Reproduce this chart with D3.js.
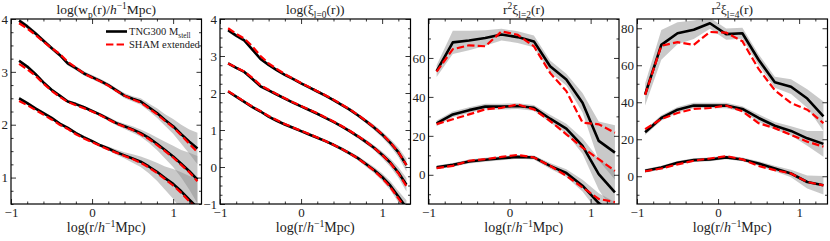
<!DOCTYPE html>
<html>
<head>
<meta charset="utf-8">
<script src="https://cdn.jsdelivr.net/npm/d3@7"></script>
<style>
  body { margin: 0; background: #fff; }
  svg { display: block; }
  svg text { font-family: "Liberation Serif", "DejaVu Serif", serif; fill: #222; }
</style>
</head>
<body>
<div id="chart"></div>
<script>
// separation bins, log(r / h^-1 Mpc)
var rFine = [-0.9, -0.8, -0.7, -0.6, -0.5, -0.4, -0.3, -0.2, -0.1, 0.0, 0.1, 0.2,
             0.3, 0.4, 0.5, 0.6, 0.7, 0.8, 0.9, 1.0, 1.1, 1.2, 1.3];
var rCoarse = [-0.9, -0.7, -0.5, -0.3, -0.1, 0.1, 0.3, 0.5, 0.7, 0.9, 1.1, 1.3];

// log wp  (three samples, top to bottom)
var wpTng = [
  [3.97, 3.86, 3.73, 3.59, 3.45, 3.32, 3.16, 3.07, 2.97, 2.90, 2.83, 2.75, 2.65, 2.55, 2.49, 2.44, 2.33, 2.22, 2.09, 1.97, 1.82, 1.68, 1.55],
  [3.21, 3.10, 2.96, 2.80, 2.66, 2.55, 2.44, 2.39, 2.33, 2.26, 2.19, 2.11, 2.03, 1.97, 1.91, 1.84, 1.75, 1.64, 1.52, 1.40, 1.26, 1.12, 0.96],
  [2.50, 2.41, 2.31, 2.22, 2.13, 2.02, 1.94, 1.84, 1.76, 1.69, 1.61, 1.55, 1.48, 1.42, 1.36, 1.30, 1.21, 1.11, 0.99, 0.88, 0.74, 0.58, 0.43]
];
var wpSham = [
  [3.92, 3.82, 3.70, 3.57, 3.45, 3.34, 3.19, 3.08, 2.97, 2.89, 2.82, 2.74, 2.64, 2.55, 2.48, 2.42, 2.31, 2.20, 2.07, 1.95, 1.80, 1.64, 1.48],
  [3.15, 3.05, 2.93, 2.78, 2.64, 2.53, 2.43, 2.37, 2.31, 2.25, 2.18, 2.10, 2.02, 1.96, 1.90, 1.82, 1.73, 1.62, 1.50, 1.38, 1.24, 1.10, 0.93],
  [2.45, 2.37, 2.28, 2.19, 2.10, 2.00, 1.92, 1.82, 1.74, 1.67, 1.60, 1.53, 1.47, 1.41, 1.35, 1.28, 1.19, 1.09, 0.97, 0.85, 0.71, 0.55, 0.40]
];
var wpErr = [
  [0.04, 0.04, 0.04, 0.04, 0.04, 0.04, 0.04, 0.04, 0.04, 0.04, 0.04, 0.04, 0.04, 0.05, 0.05, 0.06, 0.07, 0.09, 0.11, 0.14, 0.18, 0.23, 0.30],
  [0.03, 0.03, 0.03, 0.03, 0.03, 0.03, 0.03, 0.03, 0.03, 0.03, 0.03, 0.04, 0.04, 0.05, 0.06, 0.07, 0.09, 0.12, 0.16, 0.20, 0.26, 0.35, 0.45],
  [0.03, 0.03, 0.03, 0.03, 0.03, 0.03, 0.03, 0.03, 0.03, 0.03, 0.03, 0.04, 0.05, 0.06, 0.08, 0.10, 0.13, 0.17, 0.22, 0.28, 0.36, 0.45, 0.55]
];

// log xi_0
var xi0Tng = [
  [3.70, 3.55, 3.42, 3.17, 2.92, 2.76, 2.62, 2.49, 2.38, 2.26, 2.15, 2.04, 1.93, 1.81, 1.68, 1.55, 1.40, 1.24, 1.07, 0.88, 0.66, 0.40, 0.05],
  [2.80, 2.68, 2.57, 2.38, 2.18, 2.07, 1.96, 1.85, 1.74, 1.64, 1.54, 1.44, 1.33, 1.22, 1.10, 0.97, 0.83, 0.68, 0.52, 0.33, 0.12, -0.15, -0.48],
  [2.04, 1.90, 1.76, 1.62, 1.50, 1.36, 1.25, 1.15, 1.06, 0.97, 0.88, 0.79, 0.70, 0.60, 0.49, 0.37, 0.24, 0.08, -0.08, -0.27, -0.50, -0.80, -1.10]
];
var xi0Sham = [
  [3.75, 3.60, 3.47, 3.26, 3.00, 2.80, 2.65, 2.51, 2.39, 2.27, 2.16, 2.05, 1.94, 1.82, 1.69, 1.56, 1.41, 1.25, 1.08, 0.89, 0.67, 0.40, 0.05],
  [2.80, 2.69, 2.58, 2.41, 2.21, 2.09, 1.97, 1.86, 1.75, 1.65, 1.55, 1.45, 1.34, 1.23, 1.11, 0.98, 0.84, 0.69, 0.52, 0.33, 0.11, -0.17, -0.52],
  [2.05, 1.91, 1.77, 1.63, 1.51, 1.38, 1.27, 1.16, 1.07, 0.98, 0.89, 0.80, 0.70, 0.60, 0.49, 0.37, 0.23, 0.07, -0.10, -0.30, -0.54, -0.85, -1.15]
];
var xi0Err = [
  [0.05, 0.05, 0.05, 0.05, 0.04, 0.04, 0.04, 0.04, 0.04, 0.04, 0.04, 0.04, 0.04, 0.04, 0.04, 0.05, 0.05, 0.06, 0.07, 0.08, 0.10, 0.13, 0.17],
  [0.04, 0.04, 0.04, 0.04, 0.04, 0.04, 0.04, 0.04, 0.04, 0.04, 0.04, 0.04, 0.04, 0.04, 0.04, 0.05, 0.05, 0.06, 0.07, 0.09, 0.11, 0.14, 0.18],
  [0.04, 0.04, 0.04, 0.04, 0.04, 0.04, 0.04, 0.04, 0.04, 0.04, 0.04, 0.04, 0.04, 0.04, 0.05, 0.05, 0.06, 0.07, 0.08, 0.10, 0.12, 0.15, 0.20]
];

// r^2 xi_2
var xi2Tng = [
  [53.2, 68.0, 69.0, 70.2, 72.0, 70.7, 68.5, 55.7, 48.9, 37.0, 17.4, 11.4],
  [26.4, 31.0, 33.2, 35.0, 35.0, 35.3, 34.4, 28.8, 23.7, 14.8, 0.3, -9.0],
  [3.8, 5.1, 6.8, 7.7, 8.5, 9.2, 8.9, 4.6, 0.9, -5.6, -14.5, -21.0]
];
var xi2Sham = [
  [53.0, 64.5, 66.5, 66.0, 73.6, 71.9, 66.0, 52.3, 43.0, 26.8, 25.9, 21.6],
  [26.0, 28.5, 31.0, 33.6, 34.4, 36.1, 33.6, 27.6, 20.8, 14.0, 8.0, 2.0],
  [3.4, 4.6, 7.2, 8.0, 9.2, 10.2, 8.9, 4.6, -0.5, -6.5, -12.4, -14.0]
];
var xi2Err = [
  [3, 6, 5, 4, 3, 3, 3, 3, 3, 5, 10, 14],
  [1.5, 1.5, 1.5, 1.5, 1.5, 1.5, 1.5, 2, 2.5, 4, 8, 11],
  [1, 1, 1, 1, 1, 1, 1, 1.5, 2, 3, 5, 7]
];

// r^2 xi_4
var xi4Tng = [
  [44.2, 71.0, 77.3, 79.2, 82.7, 76.8, 77.3, 63.0, 50.8, 48.4, 42.0, 32.4],
  [23.8, 31.5, 36.0, 38.2, 38.2, 38.2, 36.4, 31.5, 27.3, 24.5, 20.5, 17.5],
  [2.9, 4.7, 7.3, 8.7, 9.1, 10.2, 9.1, 6.9, 4.2, 1.5, -3.1, -4.9]
];
var xi4Sham = [
  [44.0, 70.5, 72.5, 71.0, 78.0, 77.6, 73.0, 58.0, 46.5, 39.6, 36.0, 28.7],
  [25.5, 30.9, 34.2, 36.4, 36.9, 38.2, 35.1, 28.7, 26.0, 22.4, 18.7, 16.0],
  [2.7, 4.2, 6.4, 8.4, 9.6, 10.9, 9.1, 5.5, 3.3, 1.5, -3.1, -4.9]
];
var xi4Err = [
  [6, 8, 6, 5, 3, 3, 3, 3, 3, 4, 5, 8],
  [1.5, 1.5, 1.5, 1.5, 1.5, 1.5, 1.5, 2, 2, 2.5, 4, 7],
  [1, 1, 1, 1, 1, 1, 1, 1.2, 1.5, 2, 3.5, 5]
];

var xMajor = [-1, 0, 1];
var legendLabels = ["TNG300", "SHAM extended"];

// title pieces: [text, "sub"|"sup"|"", italic]
var panels = [
  {r: rFine, tng: wpTng, sham: wpSham, err: wpErr, y: [0.5, 4], yMajor: [1, 2, 3, 4], yMinor: 0.25,
   title: [["log(w", ""], ["p", "sub"], ["(r)/", ""], ["h", "", true], ["\u22121", "sup"], ["Mpc)", ""]]},
  {r: rFine, tng: xi0Tng, sham: xi0Sham, err: xi0Err, y: [-1, 4], yMajor: [-1, 0, 1, 2, 3, 4], yMinor: 0.25,
   title: [["log(\u03be", ""], ["l=0", "sub"], ["(r))", ""]]},
  {r: rCoarse, tng: xi2Tng, sham: xi2Sham, err: xi2Err, y: [-15, 80], yMajor: [0, 20, 40, 60], yMinor: 10,
   title: [["r", ""], ["2", "sup"], ["\u03be", ""], ["l=2", "sub"], ["(r)", ""]]},
  {r: rCoarse, tng: xi4Tng, sham: xi4Sham, err: xi4Err, y: [-15, 85], yMajor: [0, 20, 40, 60, 80], yMinor: 10,
   title: [["r", ""], ["2", "sup"], ["\u03be", ""], ["l=4", "sub"], ["(r)", ""]]}
];

var W = 830, H = 241;
var lefts = [11, 220, 428.5, 637], pw = 190.5, padTop = 19, ph = 185;
var serif = "Liberation Serif";

var svg = d3.select("#chart").append("svg")
    .attr("width", W)
    .attr("height", H);

function richText(t, parts, size) {
    var shift = 0;
    parts.forEach(function(p) {
        var target = p[1] == "sub" ? 0.28 * size : (p[1] == "sup" ? -0.38 * size : 0);
        var ts = t.append("tspan")
            .attr("dy", target - shift)
            .text(p[0]);
        if (p[1]) ts.attr("font-size", size * 0.7);
        if (p[2]) ts.attr("font-style", "italic");
        shift = target;
    });
}

var fmt = function(d) { return d < 0 ? "\u2212" + Math.abs(d) : String(d); };

panels.forEach(function(p, pi) {
    var g = svg.append("g").attr("transform", "translate(" + lefts[pi] + "," + padTop + ")");

    var x = d3.scaleLinear().domain([-1, 1.35]).range([0, pw]);
    var y = d3.scaleLinear().domain(p.y).range([ph, 0]);

    g.append("clipPath").attr("id", "clip" + pi)
        .append("rect").attr("width", pw).attr("height", ph);

    var plot = g.append("g").attr("clip-path", "url(#clip" + pi + ")");

    var area = d3.area()
        .x(function(d) { return x(d[0]); })
        .y0(function(d) { return y(d[1] - d[2]); })
        .y1(function(d) { return y(d[1] + d[2]); });
    var line = d3.line()
        .x(function(d) { return x(d[0]); })
        .y(function(d) { return y(d[1]); });

    p.tng.forEach(function(vals, k) {
        var pts = p.r.map(function(r, i) { return [r, vals[i], p.err[k][i]]; });
        plot.append("path")
            .attr("d", area(pts))
            .attr("fill", "#888")
            .attr("fill-opacity", 0.45);
    });
    p.tng.forEach(function(vals) {
        plot.append("path")
            .attr("d", line(p.r.map(function(r, i) { return [r, vals[i]]; })))
            .attr("fill", "none")
            .attr("stroke", "#000")
            .attr("stroke-width", 2.6)
            .attr("stroke-linejoin", "round");
    });
    p.sham.forEach(function(vals) {
        plot.append("path")
            .attr("d", line(p.r.map(function(r, i) { return [r, vals[i]]; })))
            .attr("fill", "none")
            .attr("stroke", "#f00")
            .attr("stroke-width", 2.2)
            .attr("stroke-dasharray", "7.4,3.2");
    });

    // axes, ticks pointing in
    var xMinor = d3.range(-1, 1.36, 0.2).map(function(v) { return +v.toFixed(2); })
        .filter(function(v) { return xMajor.indexOf(v) < 0; });
    var yMinor = d3.range(Math.ceil(p.y[0] / p.yMinor) * p.yMinor, p.y[1] + 1e-9, p.yMinor)
        .filter(function(v) { return p.yMajor.indexOf(+v.toFixed(3)) < 0; });

    function addAxis(axis, tr) {
        var a = g.append("g").attr("transform", tr).call(axis);
        a.attr("font-family", serif);
        a.select(".domain").remove();
        a.selectAll("line").attr("stroke", "#000").attr("stroke-width", 0.8);
        return a;
    }

    var bx = addAxis(d3.axisBottom(x).tickValues(xMajor).tickSizeInner(-5).tickSizeOuter(0).tickPadding(4).tickFormat(fmt), "translate(0," + ph + ")");
    bx.selectAll("text").attr("font-size", 13);
    addAxis(d3.axisBottom(x).tickValues(xMinor).tickSizeInner(-2.5).tickSizeOuter(0).tickFormat(""), "translate(0," + ph + ")");
    addAxis(d3.axisTop(x).tickValues(xMajor).tickSizeInner(-5).tickSizeOuter(0).tickFormat(""), "translate(0,0)");
    addAxis(d3.axisTop(x).tickValues(xMinor).tickSizeInner(-2.5).tickSizeOuter(0).tickFormat(""), "translate(0,0)");

    var ly = addAxis(d3.axisLeft(y).tickValues(p.yMajor).tickSizeInner(-5).tickSizeOuter(0).tickPadding(3).tickFormat(fmt), "translate(0,0)");
    ly.selectAll("text").attr("font-size", 13);
    addAxis(d3.axisLeft(y).tickValues(yMinor).tickSizeInner(-2.5).tickSizeOuter(0).tickFormat(""), "translate(0,0)");
    addAxis(d3.axisRight(y).tickValues(p.yMajor).tickSizeInner(-5).tickSizeOuter(0).tickFormat(""), "translate(" + pw + ",0)");
    addAxis(d3.axisRight(y).tickValues(yMinor).tickSizeInner(-2.5).tickSizeOuter(0).tickFormat(""), "translate(" + pw + ",0)");

    g.append("rect")
        .attr("width", pw).attr("height", ph)
        .attr("fill", "none").attr("stroke", "#000").attr("stroke-width", 1.2);

    // title and x label
    var t = g.append("text")
        .attr("x", pw / 2).attr("y", -5)
        .attr("text-anchor", "middle")
        .attr("font-family", serif)
        .attr("font-size", 13.5);
    richText(t, p.title, 13.5);

    var xl = g.append("text")
        .attr("x", pw / 2).attr("y", ph + 28)
        .attr("text-anchor", "middle")
        .attr("font-family", serif)
        .attr("font-size", 14);
    richText(xl, [["log(r/", ""], ["h", "", true], ["\u22121", "sup"], ["Mpc)", ""]], 14);

    if (pi == 0) {
        var lg = g.append("g").attr("transform", "translate(95,12.5)");
        lg.append("line").attr("x1", 0).attr("x2", 21).attr("y1", 0).attr("y2", 0)
            .attr("stroke", "#000").attr("stroke-width", 2.6);
        lg.append("line").attr("x1", 0).attr("x2", 21).attr("y1", 13).attr("y2", 13)
            .attr("stroke", "#f00").attr("stroke-width", 2.2).attr("stroke-dasharray", "7.4,3.2");
        var l1 = lg.append("text").attr("x", 23).attr("y", 3.5)
            .attr("font-family", serif).attr("font-size", 10.5);
        richText(l1, [[legendLabels[0] + " M", ""], ["stell", "sub"]], 10.5);
        lg.append("text").attr("x", 23).attr("y", 16.5)
            .attr("font-family", serif).attr("font-size", 10.5)
            .text(legendLabels[1]);
    }
});
</script>
</body>
</html>
